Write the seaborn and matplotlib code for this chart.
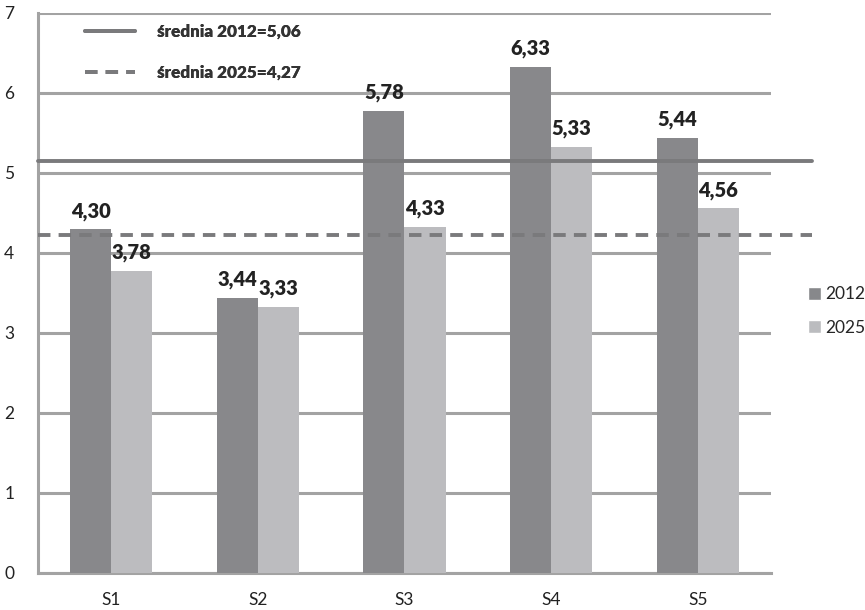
import numpy as np
import pandas as pd
import seaborn as sns
import matplotlib.pyplot as plt
from matplotlib.lines import Line2D
from matplotlib.patches import Patch

categories = ["S1", "S2", "S3", "S4", "S5"]
years = ["2012", "2025"]
values_2012 = [4.30, 3.44, 5.78, 6.33, 5.44]
values_2025 = [3.78, 3.33, 4.33, 5.33, 4.56]
mean_labels = ["średnia 2012=5,06", "średnia 2025=4,27"]
mean_levels = [5.15, 4.23]  # where the lines sit in the picture
y_ticks = [0, 1, 2, 3, 4, 5, 6, 7]

df = pd.DataFrame({
    "cat": categories * 2,
    "val": values_2012 + values_2025,
    "year": [years[0]] * len(categories) + [years[1]] * len(categories),
})

sns.set_style("white")
plt.rcParams["font.family"] = ["Lato", "DejaVu Sans"]

c2012 = "#87888b"
c2025 = "#bbbcbf"
grid_c = "#a3a3a3"
mean_c = "#7a7a7c"

fig = plt.figure(figsize=(8.65, 6.1), dpi=100)
ax = fig.add_axes([0.0439, 0.0607, 0.8474, 0.918])

sns.barplot(data=df, x="cat", y="val", hue="year", palette=[c2012, c2025],
            width=0.56, gap=0, ax=ax, legend=False, zorder=3,
            edgecolor="none", linewidth=0)

for cont in ax.containers:
    labs = [f"{b.get_height():.2f}".replace(".", ",") for b in cont]
    ax.bar_label(cont, labels=labs, padding=6, fontsize=14.5,
                 fontweight="heavy", color="#222222")

ax.set_ylim(0, 7)
ax.set_xlim(-0.5, len(categories) - 0.5)
ax.set_yticks(y_ticks)
ax.yaxis.grid(True, color=grid_c, linewidth=2.2, zorder=0)
ax.set_axisbelow(True)

ax.set_xticks(np.arange(len(categories)))
ax.set_xticklabels(categories)
ax.set_xticks(np.arange(-0.5, len(categories)), minor=True)
ax.tick_params(axis="x", which="major", length=0, pad=14, labelsize=12.5, colors="#222222")
ax.tick_params(axis="x", which="minor", length=6, width=2, color=grid_c, direction="out")
ax.tick_params(axis="y", length=6, width=2, color=grid_c, pad=11, labelsize=12.5,
               labelcolor="#222222", direction="out")
ax.set_xlabel("")
ax.set_ylabel("")

for s in ["top", "right"]:
    ax.spines[s].set_visible(False)
for s in ["left", "bottom"]:
    ax.spines[s].set_color(grid_c)
    ax.spines[s].set_linewidth(2.2)

trans = ax.get_yaxis_transform()
styles = ["-", (0, (3.2, 2.1))]
for lvl, ls in zip(mean_levels, styles):
    ax.plot([0, 1.056], [lvl, lvl], transform=trans, color=mean_c, linewidth=2.8,
            linestyle=ls, clip_on=False, zorder=4)

line_handles = [Line2D([0], [0], color=mean_c, lw=2.8, ls=ls) for ls in styles]
leg1 = ax.legend(line_handles, mean_labels, loc="upper left",
                 bbox_to_anchor=(0.043, 1.008), frameon=False, handlelength=2.95,
                 handletextpad=1.25, labelspacing=1.45,
                 prop={"weight": "heavy", "size": 12.3})
for t in leg1.get_texts():
    t.set_color("#333333")
ax.add_artist(leg1)

bar_handles = [Patch(facecolor=c2012), Patch(facecolor=c2025)]
fig.legend(bar_handles, years, loc="center left", bbox_to_anchor=(0.916, 0.49),
           frameon=False, handlelength=0.75, handleheight=0.75, handletextpad=0.25,
           labelspacing=1.0, fontsize=12.5)

fig.savefig("out.png", dpi=100)
